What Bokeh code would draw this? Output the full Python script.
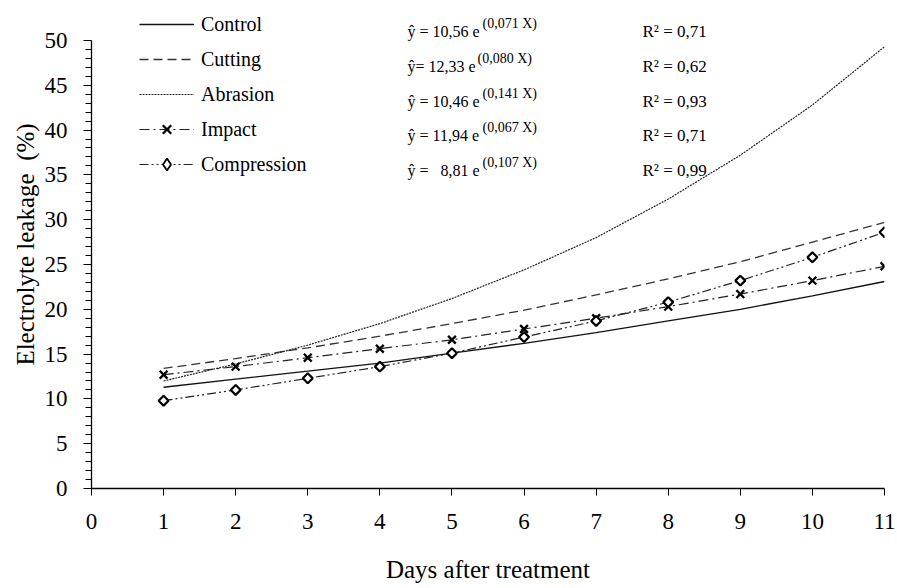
from bokeh.plotting import figure
from bokeh.models import (Range1d, FixedTicker, Legend, LegendItem, Label)
from bokeh.embed import file_html
from bokeh.resources import INLINE
import math

# ---- data ----
days = [1, 2, 3, 4, 5, 6, 7, 8, 9, 10, 11]
control = [11.3, 12.2, 13.1, 14.0, 15.1, 16.2, 17.4, 18.7, 20.0, 21.5, 23.1]
cutting = [13.4, 14.5, 15.7, 17.0, 18.4, 19.9, 21.6, 23.4, 25.3, 27.5, 29.7]
abrasion = [12.0, 13.9, 16.0, 18.4, 21.2, 24.4, 28.0, 32.3, 37.2, 42.8, 49.3]
impact = [12.7, 13.6, 14.6, 15.6, 16.6, 17.8, 19.0, 20.3, 21.7, 23.2, 24.8]
compression = [9.8, 11.0, 12.3, 13.6, 15.1, 16.9, 18.7, 20.8, 23.2, 25.8, 28.6]

series_names = ["Control", "Cutting", "Abrasion", "Impact", "Compression"]
NB = "\u00a0"
eq_main = ["\u0177 = 10,56 e", "\u0177= 12,33 e", "\u0177 = 10,46 e", "\u0177 = 11,94 e",
           "\u0177 =" + NB + NB + NB + "8,81 e"]
eq_exp = ["(0,071 X)", "(0,080 X)", "(0,141 X)", "(0,067 X)", "(0,107 X)"]
r2_text = ["R\u00b2 = 0,71", "R\u00b2 = 0,62", "R\u00b2 = 0,93", "R\u00b2 = 0,71", "R\u00b2 = 0,99"]

x_ticks = list(range(0, 12))
y_ticks = list(range(0, 51, 5))
y_minor = list(range(0, 51))

FONT = "Liberation Serif"

p = figure(width=897, height=588, output_backend="svg", toolbar_location=None,
           x_range=Range1d(0, 11), y_range=Range1d(0, 54.46),
           min_border_left=91, min_border_right=13, min_border_top=0,
           min_border_bottom=100)
p.outline_line_color = None
p.xgrid.visible = False
p.ygrid.visible = False
p.background_fill_color = "white"

# lines
r_ctrl = p.line(days, control, line_color="#111111", line_width=1.3)
r_cut = p.line(days, cutting, line_color="#333333", line_width=1.3, line_dash="9 5")
r_abr = p.line(days, abrasion, line_color="#222222", line_width=1.2, line_dash="2 1")
r_imp_l = p.line(days, impact, line_color="#222222", line_width=1.2, line_dash="10 4 2 4")
r_cmp_l = p.line(days, compression, line_color="#222222", line_width=1.2, line_dash="9 3 2 3 2 3")
r_imp_m = p.scatter(days, impact, marker="x", size=11, line_color="black", line_width=2.3)
r_cmp_m = p.scatter(days, compression, marker="square", size=7, angle=math.pi / 4,
                    line_color="black", line_width=2.2, fill_color="white")
# legend-only diamond swatch (NaN point, never drawn in the plot)
r_cmp_leg = p.scatter([float("nan")], [float("nan")], marker="diamond", size=12,
                      line_color="black", line_width=1.8, fill_color="white")

# axes
for ax in (p.xaxis[0], p.yaxis[0]):
    ax.axis_line_color = "black"
    ax.axis_line_width = 1.3
    ax.major_tick_line_color = "black"
    ax.minor_tick_line_color = "black"
    ax.major_tick_in = 0
    ax.minor_tick_in = 0
    ax.major_label_text_font = FONT
    ax.major_label_text_font_size = "23px"
    ax.major_label_text_color = "black"
    ax.axis_label_text_font = FONT
    ax.axis_label_text_font_size = "25px"
    ax.axis_label_text_font_style = "normal"
    ax.axis_label_text_color = "black"

p.xaxis.ticker = FixedTicker(ticks=x_ticks)
p.xaxis.bounds = (0, 11)
p.xaxis.major_tick_out = 7
p.xaxis.minor_tick_out = 0
p.xaxis.major_label_standoff = 18
p.xaxis.axis_label = "Days after treatment"
p.xaxis.axis_label_standoff = 24

p.yaxis.ticker = FixedTicker(ticks=y_ticks, minor_ticks=y_minor)
p.yaxis.bounds = (0, 50)
p.yaxis.major_tick_out = 8
p.yaxis.minor_tick_out = 6
p.yaxis.major_label_standoff = 16
p.yaxis.axis_label = "Electrolyte leakage" + NB + NB + "(%)"
p.yaxis.axis_label_standoff = 3

# legend
items = [
    LegendItem(label=series_names[0], renderers=[r_ctrl]),
    LegendItem(label=series_names[1], renderers=[r_cut]),
    LegendItem(label=series_names[2], renderers=[r_abr]),
    LegendItem(label=series_names[3], renderers=[r_imp_l, r_imp_m]),
    LegendItem(label=series_names[4], renderers=[r_cmp_l, r_cmp_leg]),
]
legend = Legend(items=items, location=(48, 309), glyph_width=55, glyph_height=30,
                label_height=30, spacing=5, label_standoff=7, padding=0, margin=0,
                border_line_alpha=0, background_fill_alpha=0,
                label_text_font=FONT, label_text_font_size="20px",
                label_text_color="black")
p.add_layout(legend)

# equations and R2 (screen units relative to the frame)
baselines = [31, 66, 100.5, 135, 170]
sup_x = [391, 386, 391, 391, 391]
for i in range(5):
    b = baselines[i]
    p.add_layout(Label(x=316, y=488 - b, x_units="screen", y_units="screen",
                       text=eq_main[i], text_font=FONT, text_font_size="16px",
                       text_color="black", text_baseline="alphabetic"))
    p.add_layout(Label(x=sup_x[i], y=488 - b + 8, x_units="screen", y_units="screen",
                       text=eq_exp[i], text_font=FONT, text_font_size="14px",
                       text_color="black", text_baseline="alphabetic"))
    p.add_layout(Label(x=551, y=488 - b, x_units="screen", y_units="screen",
                       text=r2_text[i], text_font=FONT, text_font_size="17px",
                       text_color="black", text_baseline="alphabetic"))

open("out.html", "w").write(file_html(p, INLINE))
